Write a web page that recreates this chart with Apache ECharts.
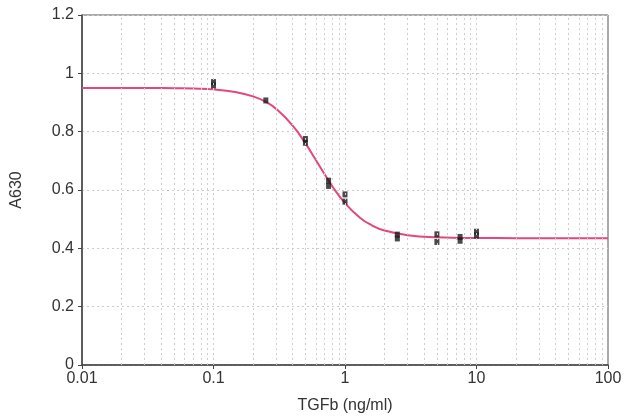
<!DOCTYPE html>
<html><head><meta charset="utf-8">
<script src="https://cdn.jsdelivr.net/npm/echarts@6/dist/echarts.min.js"></script>
<style>html,body{margin:0;padding:0;background:#fff}#c{width:628px;height:419px}</style>
</head><body><div id="c"></div>
<script>
// Measured replicate points (x = TGFb ng/ml, y = A630)
const pointX = [0.1, 0.1, 0.25, 0.5, 0.5, 0.75, 0.75, 1, 1, 2.5, 2.5, 5, 5, 7.5, 7.5, 10, 10];
const pointY = [0.97, 0.958, 0.907, 0.775, 0.762, 0.632, 0.614, 0.585, 0.56, 0.447, 0.434, 0.448, 0.422, 0.439, 0.426, 0.457, 0.444];
// Fitted curve
const curveX = [0.01, 0.02, 0.03, 0.05, 0.07, 0.1, 0.15, 0.2, 0.25, 0.3, 0.4, 0.5, 0.6, 0.7, 0.8, 1, 1.3, 1.6, 2, 3, 5, 10, 20, 50, 100];
const curveY = [0.950, 0.950, 0.950, 0.949, 0.948, 0.945, 0.935, 0.921, 0.902, 0.878, 0.821, 0.760, 0.703, 0.654, 0.613, 0.555, 0.505, 0.479, 0.461, 0.445, 0.438, 0.4355, 0.435, 0.435, 0.435];
// Vertical grid positions
const xGrid = [0.02,0.03,0.04,0.05,0.06,0.07,0.08,0.09,0.1,0.2,0.3,0.4,0.5,0.6,0.7,0.8,0.9,1,2,3,4,5,6,7,8,9,10,20,30,40,50,60,70,80,90];

const chart = echarts.init(document.getElementById('c'));
const font = 'Liberation Sans, Arial, sans-serif';
chart.setOption({
  animation: false,
  grid: { left: 82, right: 20, top: 15, bottom: 53, show: true, borderColor: '#555', borderWidth: 1 },
  xAxis: {
    type: 'log', logBase: 10, min: 0.01, max: 100,
    name: 'TGFb (ng/ml)', nameLocation: 'middle', nameGap: 33,
    nameTextStyle: { fontFamily: font, fontSize: 16, color: '#333' },
    axisLine: { lineStyle: { color: '#444', width: 1.5 } },
    axisTick: { show: true, length: 4, lineStyle: { color: '#444' } },
    axisLabel: { fontFamily: font, fontSize: 16, color: '#333', margin: 6,
      formatter: v => String(+v.toPrecision(3)) },
    splitLine: { show: false },
    minorTick: { show: false }
  },
  yAxis: {
    type: 'value', min: 0, max: 1.2, interval: 0.2,
    name: 'A630', nameLocation: 'middle', nameGap: 57, nameRotate: 90,
    nameTextStyle: { fontFamily: font, fontSize: 16, color: '#333' },
    axisLine: { show: true, lineStyle: { color: '#444', width: 1.5 } },
    axisTick: { show: true, length: 4, lineStyle: { color: '#444' } },
    axisLabel: { fontFamily: font, fontSize: 16, color: '#333', margin: 8 },
    splitLine: { show: true, lineStyle: { color: '#ccc', type: [2, 3], width: 1 } }
  },
  series: [
    {
      type: 'line', data: [], silent: true,
      markLine: {
        symbol: 'none', silent: true, label: { show: false },
        lineStyle: { color: '#cdcdcd', type: [2, 3], width: 1 },
        data: xGrid.map(v => ({ xAxis: v }))
      }
    },
    {
      type: 'line', smooth: true, showSymbol: false,
      data: curveX.map((x, i) => [x, curveY[i]]),
      lineStyle: { color: '#e4467f', width: 2 }, z: 3
    },
    {
      type: 'scatter', symbol: 'rect', symbolSize: [5, 6],
      data: pointX.map((x, i) => [x, pointY[i]]),
      itemStyle: { color: '#1b1b1b', borderWidth: 0 }, z: 4
    }
  ]
});
</script></body></html>
